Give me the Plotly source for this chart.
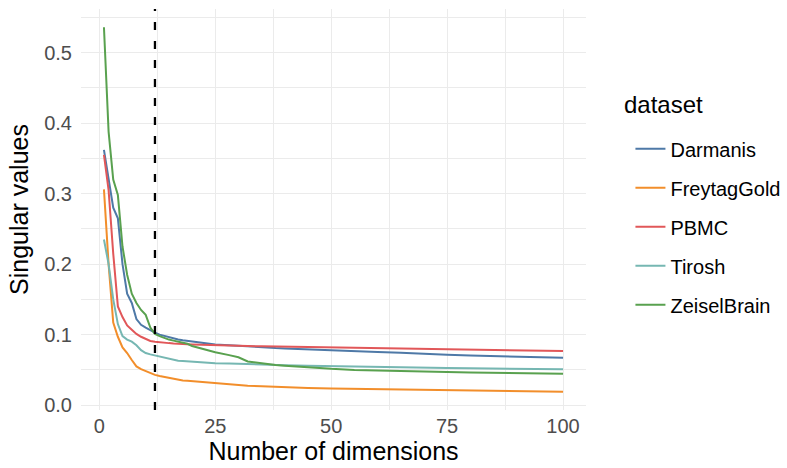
import plotly.graph_objects as go

dims = list(range(1, 21)) + [22, 25, 28, 30, 32, 35, 38, 40, 45, 50, 55, 60, 65, 70, 75, 80, 85, 90, 95, 100]

darmanis = [0.362, 0.318, 0.280, 0.265, 0.200, 0.158, 0.145, 0.122, 0.114, 0.110,
            0.106, 0.103, 0.100, 0.098, 0.096, 0.094, 0.093, 0.092, 0.091, 0.090,
            0.088, 0.086, 0.085, 0.084, 0.083, 0.082, 0.081, 0.0805, 0.079, 0.0777,
            0.0765, 0.0755, 0.0745, 0.0725, 0.0715, 0.0705, 0.0695, 0.069, 0.068, 0.0673]

freytag = [0.306, 0.200, 0.117, 0.097, 0.082, 0.074, 0.064, 0.055, 0.051, 0.048,
           0.045, 0.043, 0.0415, 0.040, 0.039, 0.0375, 0.036, 0.035, 0.0345, 0.034,
           0.0325, 0.031, 0.029, 0.0285, 0.0275, 0.027, 0.026, 0.0255, 0.0245, 0.0235,
           0.023, 0.0222, 0.0215, 0.021, 0.0205, 0.020, 0.0198, 0.0195, 0.0192, 0.019]

pbmc = [0.355, 0.305, 0.215, 0.140, 0.125, 0.113, 0.107, 0.101, 0.097, 0.094,
        0.091, 0.090, 0.089, 0.0885, 0.088, 0.0875, 0.087, 0.0868, 0.0865, 0.0862,
        0.0858, 0.085, 0.0845, 0.084, 0.0838, 0.0835, 0.0832, 0.083, 0.0822, 0.0815,
        0.081, 0.0805, 0.080, 0.0795, 0.079, 0.0785, 0.078, 0.0775, 0.0771, 0.0768]

tirosh = [0.235, 0.200, 0.150, 0.115, 0.098, 0.093, 0.090, 0.085, 0.078, 0.074,
          0.072, 0.0705, 0.068, 0.0665, 0.065, 0.064, 0.063, 0.0625, 0.062, 0.0615,
          0.0605, 0.0595, 0.059, 0.0585, 0.058, 0.0575, 0.057, 0.0567, 0.056, 0.0553,
          0.0547, 0.0542, 0.0537, 0.0532, 0.0527, 0.0523, 0.052, 0.0516, 0.0513, 0.051]

zeisel = [0.536, 0.388, 0.320, 0.298, 0.225, 0.185, 0.158, 0.145, 0.135, 0.128,
          0.110, 0.101, 0.098, 0.095, 0.093, 0.0915, 0.090, 0.089, 0.087, 0.084,
          0.080, 0.075, 0.071, 0.068, 0.062, 0.059, 0.057, 0.056, 0.0535, 0.0515,
          0.050, 0.049, 0.048, 0.0475, 0.047, 0.0465, 0.046, 0.0455, 0.045, 0.0446]

datasets = ["Darmanis", "FreytagGold", "PBMC", "Tirosh", "ZeiselBrain"]
series = [darmanis, freytag, pbmc, tirosh, zeisel]
colors = ["#4E79A7", "#F28E2B", "#E15759", "#76B7B2", "#59A14F"]
cutoff = 12

FONT = "Liberation Sans"

fig = go.Figure()
for name, vals, col in zip(datasets, series, colors):
    fig.add_trace(go.Scatter(x=dims, y=vals, mode="lines", name=name,
                             legendgroup=name,
                             line=dict(color=col, width=2)))

fig.add_vline(x=cutoff, line=dict(color="black", width=2.3, dash="8px,11px"))

allv = [v for s in series for v in s]
ymin, ymax = min(allv), max(allv)
yr = ymax - ymin
xmin, xmax = min(dims), max(dims)
xr = xmax - xmin

grid = "#EBEBEB"
fig.update_layout(
    width=787, height=468,
    margin=dict(l=81, r=201, t=9, b=58, autoexpand=False),
    plot_bgcolor="white", paper_bgcolor="white",
    font=dict(family=FONT, color="black"),
    showlegend=True,
    legend=dict(x=1.088, xanchor="left", y=0.70, yanchor="top",
                font=dict(size=20, color="black"),
                tracegroupgap=10, bgcolor="rgba(0,0,0,0)"),
    annotations=[dict(text="dataset", xref="paper", yref="paper",
                      x=1.072, y=0.762, xanchor="left", yanchor="middle",
                      showarrow=False, font=dict(size=24, color="black", family=FONT))],
)
fig.update_xaxes(
    range=[xmin - 0.05 * xr, xmax + 0.05 * xr],
    tickvals=[0, 25, 50, 75, 100],
    showgrid=True, gridcolor=grid, gridwidth=1.3,
    minor=dict(tickvals=[12.5, 37.5, 62.5, 87.5], showgrid=True, gridcolor=grid, gridwidth=0.7),
    zeroline=False, showline=False, ticks="", ticklabelstandoff=2,
    tickfont=dict(size=20, color="#4D4D4D"),
    title=dict(text="Number of dimensions", font=dict(size=25, color="black"), standoff=4),
)
fig.update_yaxes(
    range=[ymin - 0.05 * yr, ymax + 0.05 * yr],
    tickvals=[0.0, 0.1, 0.2, 0.3, 0.4, 0.5], tickformat=".1f",
    showgrid=True, gridcolor=grid, gridwidth=1.3,
    minor=dict(tickvals=[0.05, 0.15, 0.25, 0.35, 0.45, 0.55], showgrid=True, gridcolor=grid, gridwidth=0.7),
    zeroline=False, showline=False, ticks="", ticklabelstandoff=8,
    tickfont=dict(size=20, color="#4D4D4D"),
    title=dict(text="Singular values", font=dict(size=25, color="black"), standoff=8),
)

fig.write_html("out.html")
